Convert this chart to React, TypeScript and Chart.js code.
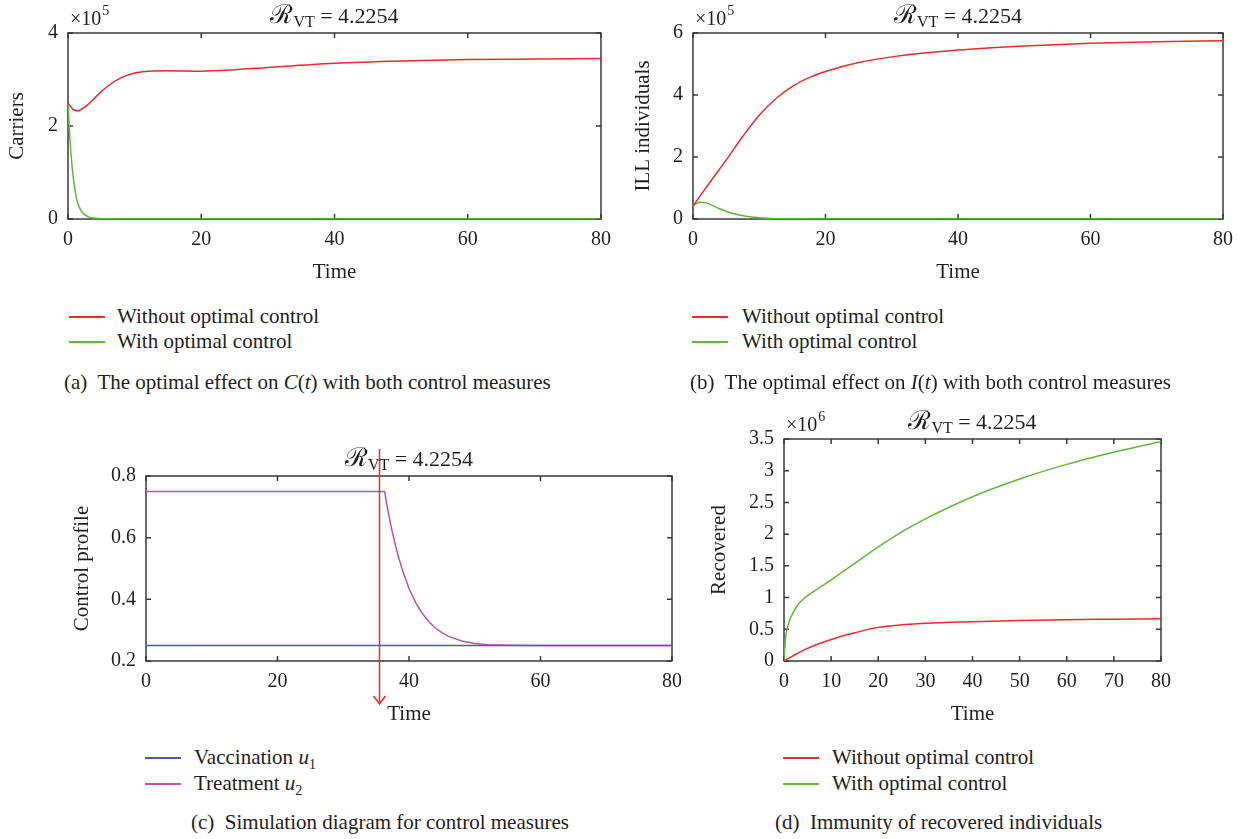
import React, { useEffect, useRef } from 'react';
import { Chart, registerables } from 'chart.js';
Chart.register(...registerables);

const FONT = '"Liberation Serif", "DejaVu Serif", "Times New Roman", serif';
const TEXT = '#231f20';
const AXIS = '#3a3a3a';
const RED = '#ef2b2b';
const GREEN = '#62b83c';
const BLUE = '#4c5db0';
const MAGENTA = '#bb52b0';
const R_VT = '4.2254';
const ARROW_T = 35.5;

// (a) Carriers C(t)
const T_C_WITHOUT = [0, 0.5, 1, 1.5, 2, 3, 4, 5, 6, 8, 10, 12, 15, 20, 25, 30, 40, 50, 60, 70, 80];
const C_WITHOUT = [250000, 240000, 234000, 233000, 236000, 246000, 260000, 274000, 286000, 304000, 314000, 318000, 319000, 318000, 321000, 326000, 335000, 340000, 343000, 344000, 345000];
const T_C_WITH = [0, 0.3, 0.7, 1, 1.3, 2, 3, 4, 6, 8, 10, 80];
const C_WITH = [250000, 170000, 100000, 68000, 42000, 17000, 5000, 2000, 500, 100, 0, 0];

// (b) ILL individuals I(t)
const T_I_WITHOUT = [0, 1, 2.5, 5, 7.5, 10, 12.5, 15, 17.5, 20, 25, 30, 40, 50, 60, 70, 80];
const I_WITHOUT = [42000, 72000, 117000, 190000, 266000, 335000, 388000, 428000, 456000, 476000, 505000, 523000, 545000, 558000, 567000, 572000, 575000];
const T_I_WITH = [0, 0.5, 1, 2, 3, 4, 5, 6, 8, 10, 12, 15, 20, 80];
const I_WITH = [42000, 50000, 54000, 52000, 43000, 33000, 25000, 18000, 9000, 4000, 1800, 500, 0, 0];

// (c) Control profiles
const T_U1 = [0, 80];
const U1 = [0.25, 0.25];
const T_U2 = [0, 36.3, 36.6, 37, 37.5, 38, 38.5, 39, 40, 41, 42, 43, 44, 45, 46, 48, 50, 52, 55, 60, 80];
const U2 = [0.75, 0.75, 0.71, 0.665, 0.615, 0.57, 0.53, 0.495, 0.435, 0.39, 0.355, 0.328, 0.307, 0.292, 0.28, 0.265, 0.257, 0.253, 0.251, 0.25, 0.25];

// (d) Recovered R(t)
const T_R_WITHOUT = [0, 2, 5, 10, 15, 20, 25, 30, 40, 50, 60, 70, 80];
const R_WITHOUT = [0, 85000, 200000, 340000, 445000, 530000, 570000, 595000, 620000, 640000, 652000, 660000, 668000];
const T_R_WITH = [0, 0.3, 1, 2, 3, 4, 5, 6, 8, 10, 15, 20, 25, 30, 40, 50, 60, 70, 80];
const R_WITH = [0, 340000, 600000, 770000, 890000, 970000, 1030000, 1080000, 1180000, 1280000, 1540000, 1800000, 2035000, 2240000, 2590000, 2870000, 3100000, 3290000, 3460000];

const pts = (xs: number[], ys: number[]) => xs.map((x, i) => ({ x, y: ys[i] }));

function line(label: string, color: string, xs: number[], ys: number[], tension = 0.4) {
  return {
    label,
    data: pts(xs, ys),
    borderColor: color,
    backgroundColor: color,
    borderWidth: 1.5,
    pointRadius: 0,
    fill: false,
    tension,
    cubicInterpolationMode: tension > 0 ? 'monotone' : 'default',
  };
}

function drawRvt(ctx: CanvasRenderingContext2D, cx: number, baseline: number) {
  const bigR = `26px ${FONT}`;
  const small = `16px ${FONT}`;
  const big = `22px ${FONT}`;
  ctx.font = bigR; const wR = ctx.measureText('ℛ').width;
  ctx.font = small; const wVT = ctx.measureText('VT').width;
  ctx.font = big; const wEq = ctx.measureText(' = ' + R_VT).width;
  let x = cx - (wR + wVT + wEq) / 2;
  ctx.fillStyle = TEXT;
  ctx.textAlign = 'left';
  ctx.textBaseline = 'alphabetic';
  ctx.font = bigR; ctx.fillText('ℛ', x, baseline); x += wR;
  ctx.font = small; ctx.fillText('VT', x, baseline + 4); x += wVT;
  ctx.font = big; ctx.fillText(' = ' + R_VT, x, baseline);
}

function drawExp(ctx: CanvasRenderingContext2D, x: number, baseline: number, exp: string) {
  ctx.fillStyle = TEXT;
  ctx.textAlign = 'left';
  ctx.textBaseline = 'alphabetic';
  ctx.font = `20px ${FONT}`;
  ctx.fillText('×10', x, baseline);
  const w = ctx.measureText('×10').width;
  ctx.font = `14px ${FONT}`;
  ctx.fillText(exp, x + w + 1, baseline - 10);
}

type Spec = {
  datasets: any[];
  xStep: number;
  yMin: number;
  yMax: number;
  yStep: number;
  yFmt: (v: number) => string;
  yTitle: string;
  pad: { top: number; right: number };
  yWidth: number;
  xHeight: number;
  yTitlePad: number;
  xTitlePad: number;
  exp?: string;
  arrow?: boolean;
};

function makeConfig(s: Spec): any {
  const framePlugin = {
    id: 'frame',
    beforeDatasetsDraw(chart: any) {
      const { ctx, chartArea: a, scales } = chart;
      const xs = scales.x;
      const ys = scales.y;
      ctx.save();
      ctx.strokeStyle = AXIS;
      ctx.lineWidth = 1.5;
      ctx.strokeRect(a.left, a.top, a.right - a.left, a.bottom - a.top);
      ctx.beginPath();
      xs.ticks.forEach((t: any) => {
        const px = xs.getPixelForValue(t.value);
        ctx.moveTo(px, a.bottom); ctx.lineTo(px, a.bottom - 5);
        ctx.moveTo(px, a.top); ctx.lineTo(px, a.top + 5);
      });
      ys.ticks.forEach((t: any) => {
        const py = ys.getPixelForValue(t.value);
        ctx.moveTo(a.left, py); ctx.lineTo(a.left + 5, py);
        ctx.moveTo(a.right, py); ctx.lineTo(a.right - 5, py);
      });
      ctx.stroke();
      drawRvt(ctx, (a.left + a.right) / 2, a.top - 10);
      if (s.exp) drawExp(ctx, a.left + 2, a.top - 8, s.exp);
      ctx.restore();
    },
    afterDatasetsDraw(chart: any) {
      if (!s.arrow) return;
      const { ctx, chartArea: a, scales } = chart;
      const px = Math.round(scales.x.getPixelForValue(ARROW_T)) + 0.5;
      const top = a.top - 27;
      const bottom = a.bottom + 43;
      ctx.save();
      ctx.strokeStyle = '#ee2a2a';
      ctx.lineWidth = 1.5;
      ctx.beginPath();
      ctx.moveTo(px, top); ctx.lineTo(px, bottom);
      ctx.moveTo(px - 6, bottom - 8); ctx.lineTo(px, bottom); ctx.lineTo(px + 6, bottom - 8);
      ctx.stroke();
      ctx.restore();
    },
  };
  return {
    type: 'line',
    data: { datasets: s.datasets },
    plugins: [framePlugin],
    options: {
      responsive: false,
      maintainAspectRatio: false,
      animation: false,
      events: [],
      devicePixelRatio: 1,
      layout: { padding: { top: s.pad.top, right: s.pad.right, left: 0, bottom: 0 } },
      plugins: { legend: { display: false }, tooltip: { enabled: false }, title: { display: false } },
      scales: {
        x: {
          type: 'linear',
          min: 0,
          max: 80,
          grid: { display: false, drawTicks: false },
          border: { display: false },
          ticks: {
            stepSize: s.xStep,
            autoSkip: false,
            maxRotation: 0,
            padding: 9,
            color: TEXT,
            font: { family: FONT, size: 20 },
          },
          title: {
            display: true,
            text: 'Time',
            color: TEXT,
            font: { family: FONT, size: 21 },
            padding: { top: 0, bottom: s.xTitlePad },
          },
          afterFit: (scale: any) => { scale.height = s.xHeight; },
        },
        y: {
          type: 'linear',
          min: s.yMin,
          max: s.yMax,
          grid: { display: false, drawTicks: false },
          border: { display: false },
          ticks: {
            stepSize: s.yStep,
            padding: 10,
            color: TEXT,
            font: { family: FONT, size: 20 },
            callback: (v: any) => s.yFmt(Number(v)),
          },
          title: {
            display: true,
            text: s.yTitle,
            color: TEXT,
            font: { family: FONT, size: 21 },
            padding: { top: s.yTitlePad, bottom: 0 },
          },
          afterFit: (scale: any) => { scale.width = s.yWidth; },
        },
      },
    },
  };
}

function Panel({ spec, left, top, width, height }: { spec: Spec; left: number; top: number; width: number; height: number }) {
  const ref = useRef<HTMLCanvasElement>(null);
  useEffect(() => {
    const chart = new Chart(ref.current as HTMLCanvasElement, makeConfig(spec));
    return () => chart.destroy();
  }, []);
  return (
    <canvas
      ref={ref}
      width={width}
      height={height}
      style={{ position: 'absolute', left, top, width, height }}
    />
  );
}

function LegendRow({ x, textX, y, color, children }: any) {
  return (
    <>
      <div style={{ position: 'absolute', left: x, top: y - 1, width: 36, height: 2, background: color }} />
      <div style={{ position: 'absolute', left: textX, top: y - 14, fontSize: 21, lineHeight: '26px', whiteSpace: 'nowrap', color: TEXT }}>
        {children}
      </div>
    </>
  );
}

function Caption({ x, y, children }: any) {
  return (
    <div style={{ position: 'absolute', left: x, top: y - 14, fontSize: 21, lineHeight: '26px', whiteSpace: 'nowrap', color: TEXT }}>
      {children}
    </div>
  );
}

const Sub = ({ children }: any) => (
  <span style={{ fontSize: 14, position: 'relative', top: 5 }}>{children}</span>
);

const specA: Spec = {
  datasets: [line('Without optimal control', RED, T_C_WITHOUT, C_WITHOUT), line('With optimal control', GREEN, T_C_WITH, C_WITH)],
  xStep: 20, yMin: 0, yMax: 400000, yStep: 200000,
  yFmt: (v) => String(Math.round(v / 1e5)),
  yTitle: 'Carriers',
  pad: { top: 33, right: 17 }, yWidth: 68, xHeight: 71, yTitlePad: 5, xTitlePad: 5, exp: '5',
};
const specB: Spec = {
  datasets: [line('Without optimal control', RED, T_I_WITHOUT, I_WITHOUT), line('With optimal control', GREEN, T_I_WITH, I_WITH)],
  xStep: 20, yMin: 0, yMax: 600000, yStep: 200000,
  yFmt: (v) => String(Math.round(v / 1e5)),
  yTitle: 'ILL individuals',
  pad: { top: 33, right: 14 }, yWidth: 73, xHeight: 71, yTitlePad: 11, xTitlePad: 5, exp: '5',
};
const specC: Spec = {
  datasets: [line('Vaccination u1', BLUE, T_U1, U1, 0), line('Treatment u2', MAGENTA, T_U2, U2, 0)],
  xStep: 20, yMin: 0.2, yMax: 0.8, yStep: 0.2,
  yFmt: (v) => v.toFixed(1),
  yTitle: 'Control profile',
  pad: { top: 76, right: 28 }, yWidth: 146, xHeight: 69, yTitlePad: 70, xTitlePad: 3, arrow: true,
};
const specD: Spec = {
  datasets: [line('Without optimal control', RED, T_R_WITHOUT, R_WITHOUT), line('With optimal control', GREEN, T_R_WITH, R_WITH)],
  xStep: 10, yMin: 0, yMax: 3500000, yStep: 500000,
  yFmt: (v) => String(Math.round(v / 1e5) / 10),
  yTitle: 'Recovered',
  pad: { top: 39, right: 81 }, yWidth: 94, xHeight: 69, yTitlePad: 17, xTitlePad: 3, exp: '6',
};

export default function App() {
  return (
    <div style={{ position: 'absolute', left: 0, top: 0, width: 1242, height: 839, background: '#fff', fontFamily: FONT, overflow: 'hidden' }}>
      <Panel spec={specA} left={0} top={0} width={620} height={290} />
      <Panel spec={specB} left={620} top={0} width={622} height={290} />
      <Panel spec={specC} left={0} top={400} width={700} height={330} />
      <Panel spec={specD} left={690} top={400} width={552} height={330} />

      <LegendRow x={69} textX={117} y={317} color={RED}>Without optimal control</LegendRow>
      <LegendRow x={69} textX={117} y={342} color={GREEN}>With optimal control</LegendRow>
      <Caption x={64} y={383}>(a)&nbsp; The optimal effect on <i>C</i>(<i>t</i>) with both control measures</Caption>

      <LegendRow x={692} textX={742} y={317} color={RED}>Without optimal control</LegendRow>
      <LegendRow x={692} textX={742} y={342} color={GREEN}>With optimal control</LegendRow>
      <Caption x={690} y={383}>(b)&nbsp; The optimal effect on <i>I</i>(<i>t</i>) with both control measures</Caption>

      <LegendRow x={145} textX={194} y={758} color={BLUE}>Vaccination <i>u</i><Sub>1</Sub></LegendRow>
      <LegendRow x={145} textX={194} y={784} color={MAGENTA}>Treatment <i>u</i><Sub>2</Sub></LegendRow>
      <Caption x={191} y={823}>(c)&nbsp; Simulation diagram for control measures</Caption>

      <LegendRow x={783} textX={832} y={758} color={RED}>Without optimal control</LegendRow>
      <LegendRow x={783} textX={832} y={784} color={GREEN}>With optimal control</LegendRow>
      <Caption x={775} y={823}>(d)&nbsp; Immunity of recovered individuals</Caption>
    </div>
  );
}
